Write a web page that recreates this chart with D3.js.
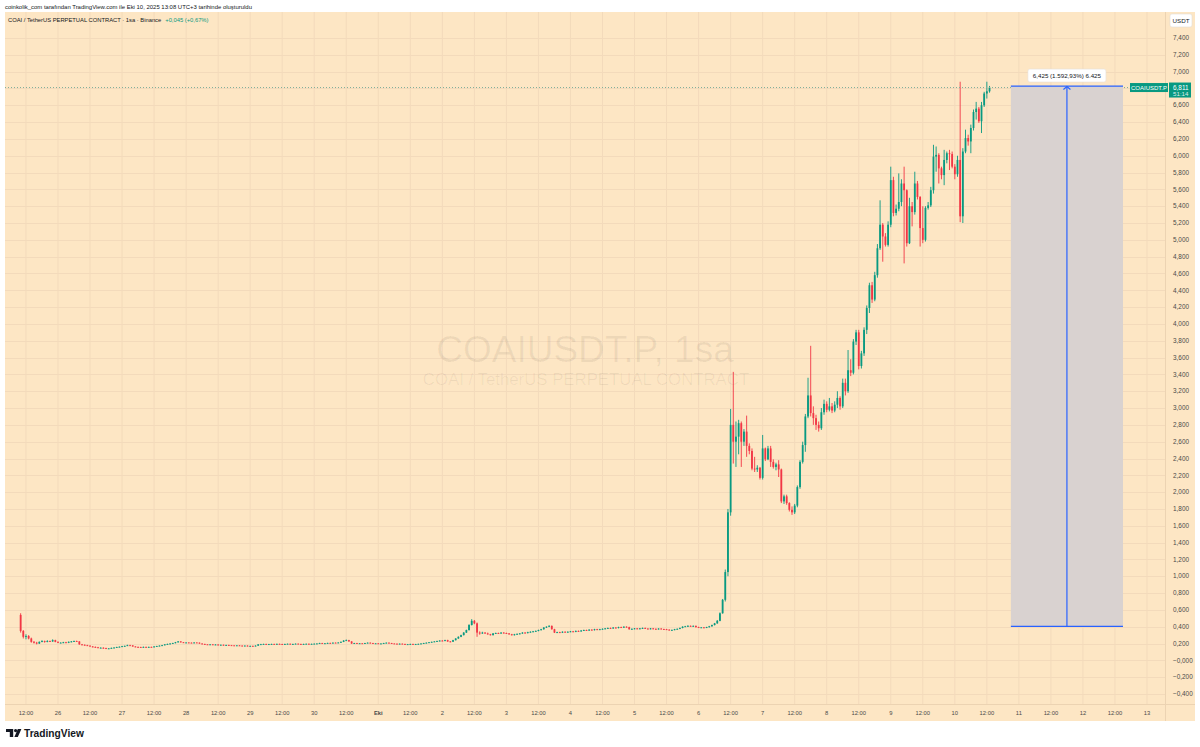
<!DOCTYPE html>
<html>
<head>
<meta charset="utf-8">
<script src="https://cdn.jsdelivr.net/npm/d3@7"></script>
<style>
  html, body { margin: 0; padding: 0; background: #ffffff; }
  svg { display: block; font-family: "Liberation Sans", Arial, sans-serif; }
</style>
</head>
<body>
<div id="chartDiv"></div>
<script>
// ---------- data (1h candles, UTC+3 clock) ----------
const symbol = 'COAIUSDT.P';
const firstBar = Date.UTC(2025, 8, 25, 10);   // Sep 25, 10:00

const opens = [
  0.54, 0.35, 0.28, 0.29, 0.26, 0.22, 0.21, 0.20, 0.22, 0.23, 0.22, 0.23,
  0.225, 0.24, 0.22, 0.21, 0.21, 0.215, 0.21, 0.22, 0.225, 0.23, 0.225, 0.19,
  0.185, 0.18, 0.175, 0.165, 0.16, 0.155, 0.15, 0.15, 0.145, 0.14, 0.142, 0.148,
  0.152, 0.158, 0.162, 0.168, 0.172, 0.18, 0.178, 0.165, 0.16, 0.158, 0.155, 0.16,
  0.155, 0.16, 0.158, 0.165, 0.17, 0.175, 0.18, 0.19, 0.195, 0.2, 0.205, 0.215,
  0.225, 0.215, 0.21, 0.212, 0.21, 0.208, 0.212, 0.21, 0.2, 0.195, 0.19, 0.188,
  0.19, 0.185, 0.188, 0.182, 0.185, 0.18, 0.183, 0.18, 0.178, 0.176, 0.178, 0.175,
  0.172, 0.175, 0.17, 0.172, 0.17, 0.175, 0.19, 0.192, 0.195, 0.19, 0.193, 0.195,
  0.192, 0.196, 0.194, 0.19, 0.195, 0.197, 0.193, 0.195, 0.198, 0.195, 0.192, 0.195,
  0.197, 0.194, 0.196, 0.198, 0.2, 0.205, 0.2, 0.203, 0.207, 0.205, 0.21, 0.208,
  0.212, 0.22, 0.235, 0.24, 0.225, 0.2, 0.205, 0.2, 0.203, 0.2, 0.205, 0.21,
  0.205, 0.2, 0.202, 0.198, 0.2, 0.205, 0.21, 0.205, 0.2, 0.198, 0.195, 0.198,
  0.195, 0.19, 0.192, 0.195, 0.19, 0.193, 0.196, 0.2, 0.205, 0.21, 0.215, 0.22,
  0.225, 0.23, 0.235, 0.232, 0.24, 0.225, 0.222, 0.24, 0.26, 0.28, 0.3, 0.33,
  0.36, 0.42, 0.47, 0.44, 0.33, 0.32, 0.33, 0.32, 0.31, 0.3, 0.32, 0.325,
  0.32, 0.33, 0.325, 0.32, 0.31, 0.3, 0.31, 0.315, 0.32, 0.33, 0.325, 0.335,
  0.34, 0.345, 0.35, 0.36, 0.37, 0.39, 0.4, 0.41, 0.37, 0.33, 0.335, 0.33,
  0.34, 0.335, 0.34, 0.345, 0.34, 0.35, 0.345, 0.355, 0.36, 0.355, 0.365, 0.36,
  0.37, 0.365, 0.37, 0.375, 0.38, 0.385, 0.38, 0.39, 0.385, 0.395, 0.39, 0.4,
  0.395, 0.37, 0.375, 0.38, 0.375, 0.38, 0.385, 0.378, 0.372, 0.38, 0.375, 0.37,
  0.378, 0.372, 0.37, 0.365, 0.36, 0.362, 0.37, 0.375, 0.385, 0.4, 0.405, 0.41,
  0.405, 0.41, 0.395, 0.39, 0.392, 0.388, 0.395, 0.405, 0.42, 0.44, 0.47, 0.56,
  0.72, 1.05, 1.76, 2.80, 2.60, 2.66, 2.82, 2.60, 2.72, 2.55,
  2.49, 2.28, 2.27, 2.29, 2.17, 2.52, 2.39, 2.52, 2.36, 2.30,
  2.33, 2.27, 1.89, 1.95, 1.87, 1.79, 1.76, 1.84, 2.06, 2.36,
  2.56, 2.90, 3.15, 2.94, 2.88, 2.80, 2.76, 2.95, 3.05, 2.98,
  3.02, 2.97, 3.04, 3.12, 3.02, 3.30, 3.20, 3.45, 3.42, 3.79,
  3.90, 3.50, 3.65, 3.93, 4.19, 4.46, 4.29, 4.58, 4.90, 5.18,
  5.04, 4.94, 5.18, 5.71, 5.32, 5.37, 5.45, 5.67, 5.59, 4.96,
  5.40, 5.33, 5.67, 5.51, 5.14, 5.00, 5.38, 5.41, 5.59, 5.99,
  6.01, 5.85, 5.77, 5.95, 6.03, 6.02, 5.87, 5.78, 5.95, 5.28,
  6.05, 6.21, 6.17, 6.33, 6.52, 6.56, 6.41, 6.60, 6.74, 6.766
];

const highs = [
  0.56, 0.36, 0.31, 0.30, 0.27, 0.23, 0.22, 0.225, 0.24, 0.235, 0.24, 0.235,
  0.25, 0.245, 0.225, 0.215, 0.22, 0.22, 0.225, 0.23, 0.235, 0.235, 0.228, 0.195,
  0.19, 0.185, 0.178, 0.17, 0.165, 0.16, 0.155, 0.155, 0.15, 0.146, 0.152, 0.156,
  0.162, 0.166, 0.172, 0.176, 0.186, 0.185, 0.18, 0.168, 0.164, 0.162, 0.164, 0.163,
  0.163, 0.163, 0.168, 0.173, 0.178, 0.184, 0.193, 0.199, 0.204, 0.209, 0.219, 0.23,
  0.228, 0.218, 0.215, 0.215, 0.213, 0.215, 0.215, 0.213, 0.203, 0.198, 0.193, 0.193,
  0.193, 0.191, 0.191, 0.188, 0.188, 0.186, 0.186, 0.183, 0.181, 0.181, 0.181, 0.178,
  0.178, 0.178, 0.175, 0.175, 0.178, 0.193, 0.196, 0.198, 0.198, 0.196, 0.198, 0.198,
  0.199, 0.199, 0.197, 0.198, 0.2, 0.2, 0.198, 0.201, 0.201, 0.198, 0.198, 0.2,
  0.2, 0.199, 0.201, 0.203, 0.209, 0.208, 0.206, 0.21, 0.21, 0.213, 0.213, 0.215,
  0.224, 0.24, 0.248, 0.244, 0.228, 0.208, 0.208, 0.206, 0.206, 0.208, 0.213, 0.213,
  0.208, 0.205, 0.205, 0.203, 0.208, 0.213, 0.213, 0.208, 0.203, 0.201, 0.201, 0.201,
  0.198, 0.195, 0.198, 0.198, 0.196, 0.199, 0.203, 0.208, 0.213, 0.218, 0.223, 0.228,
  0.234, 0.239, 0.24, 0.245, 0.245, 0.23, 0.244, 0.264, 0.285, 0.305, 0.335, 0.365,
  0.43, 0.49, 0.48, 0.45, 0.345, 0.34, 0.335, 0.33, 0.315, 0.325, 0.33, 0.33,
  0.335, 0.335, 0.33, 0.325, 0.315, 0.315, 0.32, 0.325, 0.335, 0.335, 0.34, 0.345,
  0.35, 0.355, 0.365, 0.375, 0.395, 0.405, 0.418, 0.415, 0.375, 0.34, 0.34, 0.345,
  0.345, 0.345, 0.35, 0.35, 0.355, 0.355, 0.36, 0.365, 0.365, 0.37, 0.37, 0.375,
  0.375, 0.375, 0.38, 0.385, 0.39, 0.39, 0.395, 0.395, 0.4, 0.4, 0.405, 0.405,
  0.4, 0.38, 0.385, 0.385, 0.385, 0.39, 0.39, 0.382, 0.385, 0.385, 0.38, 0.382,
  0.382, 0.376, 0.374, 0.369, 0.366, 0.374, 0.379, 0.39, 0.405, 0.41, 0.418, 0.415,
  0.415, 0.414, 0.4, 0.396, 0.396, 0.399, 0.41, 0.425, 0.445, 0.48, 0.57, 0.73,
  1.08, 1.80, 2.99, 3.43, 2.84, 2.86, 2.84, 2.75, 2.91, 2.58,
  2.52, 2.42, 2.32, 2.30, 2.68, 2.53, 2.55, 2.55, 2.39, 2.35,
  2.38, 2.28, 1.97, 1.97, 1.88, 1.83, 1.86, 2.08, 2.38, 2.60,
  2.93, 3.36, 3.74, 3.02, 2.92, 2.84, 3.00, 3.10, 3.08, 3.12,
  3.06, 3.08, 3.20, 3.14, 3.35, 3.35, 3.69, 3.58, 3.82, 3.93,
  3.93, 3.68, 3.96, 4.22, 4.49, 4.50, 4.62, 4.95, 5.47, 5.20,
  5.08, 5.22, 5.87, 5.75, 5.42, 5.79, 5.72, 5.87, 5.60, 5.50,
  5.45, 5.81, 5.70, 5.52, 5.40, 5.40, 5.45, 5.63, 6.13, 6.11,
  6.03, 5.87, 6.07, 6.05, 6.07, 6.05, 5.90, 6.00, 6.88, 6.09,
  6.31, 6.25, 6.37, 6.55, 6.64, 6.58, 6.64, 6.76, 6.88, 6.83
];

const lows = [
  0.33, 0.26, 0.25, 0.25, 0.21, 0.20, 0.19, 0.195, 0.215, 0.21, 0.215, 0.22,
  0.22, 0.215, 0.205, 0.205, 0.205, 0.205, 0.205, 0.215, 0.22, 0.22, 0.185, 0.18,
  0.176, 0.17, 0.162, 0.155, 0.15, 0.146, 0.145, 0.14, 0.136, 0.136, 0.139, 0.145,
  0.149, 0.155, 0.159, 0.165, 0.17, 0.174, 0.162, 0.156, 0.154, 0.151, 0.152, 0.151,
  0.152, 0.155, 0.155, 0.162, 0.167, 0.172, 0.177, 0.187, 0.192, 0.197, 0.202, 0.212,
  0.211, 0.207, 0.207, 0.206, 0.205, 0.205, 0.207, 0.197, 0.192, 0.187, 0.185, 0.185,
  0.182, 0.182, 0.179, 0.179, 0.177, 0.177, 0.177, 0.175, 0.173, 0.173, 0.172, 0.169,
  0.169, 0.167, 0.167, 0.167, 0.167, 0.172, 0.187, 0.189, 0.187, 0.187, 0.19, 0.189,
  0.189, 0.191, 0.187, 0.187, 0.192, 0.19, 0.19, 0.192, 0.192, 0.189, 0.189, 0.192,
  0.191, 0.191, 0.193, 0.195, 0.197, 0.197, 0.197, 0.2, 0.202, 0.202, 0.205, 0.205,
  0.209, 0.217, 0.231, 0.222, 0.196, 0.197, 0.197, 0.197, 0.197, 0.197, 0.202, 0.202,
  0.197, 0.197, 0.195, 0.195, 0.197, 0.202, 0.202, 0.197, 0.195, 0.192, 0.192, 0.192,
  0.187, 0.187, 0.189, 0.187, 0.187, 0.19, 0.193, 0.197, 0.202, 0.207, 0.212, 0.217,
  0.221, 0.226, 0.228, 0.228, 0.22, 0.216, 0.218, 0.236, 0.256, 0.276, 0.296, 0.326,
  0.355, 0.415, 0.43, 0.28, 0.305, 0.315, 0.315, 0.305, 0.295, 0.296, 0.315, 0.315,
  0.315, 0.32, 0.315, 0.305, 0.295, 0.295, 0.305, 0.31, 0.315, 0.32, 0.32, 0.33,
  0.335, 0.34, 0.345, 0.355, 0.365, 0.385, 0.395, 0.365, 0.325, 0.325, 0.325, 0.325,
  0.33, 0.33, 0.335, 0.335, 0.335, 0.34, 0.34, 0.35, 0.35, 0.35, 0.355, 0.355,
  0.36, 0.36, 0.365, 0.37, 0.375, 0.375, 0.375, 0.38, 0.38, 0.385, 0.385, 0.39,
  0.365, 0.365, 0.37, 0.37, 0.37, 0.375, 0.374, 0.368, 0.368, 0.37, 0.365, 0.366,
  0.368, 0.366, 0.361, 0.356, 0.356, 0.358, 0.366, 0.371, 0.381, 0.396, 0.4, 0.4,
  0.4, 0.39, 0.386, 0.386, 0.384, 0.384, 0.39, 0.4, 0.415, 0.435, 0.465, 0.555,
  0.70, 1.00, 1.72, 2.34, 2.30, 2.45, 2.30, 2.55, 2.42, 2.45,
  2.26, 2.24, 2.24, 2.15, 2.15, 2.37, 2.38, 2.30, 2.28, 2.26,
  2.18, 1.87, 1.86, 1.85, 1.77, 1.73, 1.74, 1.82, 2.04, 2.34,
  2.48, 2.88, 2.90, 2.80, 2.74, 2.72, 2.74, 2.92, 2.95, 2.96,
  2.94, 2.95, 3.00, 2.98, 3.00, 3.15, 3.18, 3.38, 3.40, 3.75,
  3.46, 3.47, 3.62, 3.88, 4.13, 4.25, 4.27, 4.55, 4.88, 4.74,
  4.92, 4.92, 5.15, 5.28, 5.29, 5.34, 5.40, 4.72, 4.92, 4.95,
  5.16, 5.30, 5.48, 4.92, 4.96, 4.98, 5.36, 5.39, 5.55, 5.81,
  5.67, 5.72, 5.65, 5.91, 5.83, 5.85, 5.72, 5.75, 5.21, 5.20,
  6.03, 6.12, 6.03, 6.30, 6.43, 6.39, 6.27, 6.58, 6.68, 6.75
];

const closes = [
  0.35, 0.28, 0.29, 0.26, 0.22, 0.21, 0.20, 0.22, 0.23, 0.22, 0.23, 0.225,
  0.24, 0.22, 0.21, 0.21, 0.215, 0.21, 0.22, 0.225, 0.23, 0.225, 0.19, 0.185,
  0.18, 0.175, 0.165, 0.16, 0.155, 0.15, 0.15, 0.145, 0.14, 0.142, 0.148, 0.152,
  0.158, 0.162, 0.168, 0.172, 0.18, 0.178, 0.165, 0.16, 0.158, 0.155, 0.16, 0.155,
  0.16, 0.158, 0.165, 0.17, 0.175, 0.18, 0.19, 0.195, 0.2, 0.205, 0.215, 0.225,
  0.215, 0.21, 0.212, 0.21, 0.208, 0.212, 0.21, 0.2, 0.195, 0.19, 0.188, 0.19,
  0.185, 0.188, 0.182, 0.185, 0.18, 0.183, 0.18, 0.178, 0.176, 0.178, 0.175, 0.172,
  0.175, 0.17, 0.172, 0.17, 0.175, 0.19, 0.192, 0.195, 0.19, 0.193, 0.195, 0.192,
  0.196, 0.194, 0.19, 0.195, 0.197, 0.193, 0.195, 0.198, 0.195, 0.192, 0.195, 0.197,
  0.194, 0.196, 0.198, 0.2, 0.205, 0.2, 0.203, 0.207, 0.205, 0.21, 0.208, 0.212,
  0.22, 0.235, 0.24, 0.225, 0.2, 0.205, 0.2, 0.203, 0.2, 0.205, 0.21, 0.205,
  0.2, 0.202, 0.198, 0.2, 0.205, 0.21, 0.205, 0.2, 0.198, 0.195, 0.198, 0.195,
  0.19, 0.192, 0.195, 0.19, 0.193, 0.196, 0.2, 0.205, 0.21, 0.215, 0.22, 0.225,
  0.23, 0.235, 0.232, 0.24, 0.225, 0.222, 0.24, 0.26, 0.28, 0.3, 0.33, 0.36,
  0.42, 0.47, 0.44, 0.33, 0.32, 0.33, 0.32, 0.31, 0.3, 0.32, 0.325, 0.32,
  0.33, 0.325, 0.32, 0.31, 0.3, 0.31, 0.315, 0.32, 0.33, 0.325, 0.335, 0.34,
  0.345, 0.35, 0.36, 0.37, 0.39, 0.4, 0.41, 0.37, 0.33, 0.335, 0.33, 0.34,
  0.335, 0.34, 0.345, 0.34, 0.35, 0.345, 0.355, 0.36, 0.355, 0.365, 0.36, 0.37,
  0.365, 0.37, 0.375, 0.38, 0.385, 0.38, 0.39, 0.385, 0.395, 0.39, 0.4, 0.395,
  0.37, 0.375, 0.38, 0.375, 0.38, 0.385, 0.378, 0.372, 0.38, 0.375, 0.37, 0.378,
  0.372, 0.37, 0.365, 0.36, 0.362, 0.37, 0.375, 0.385, 0.4, 0.405, 0.41, 0.405,
  0.41, 0.395, 0.39, 0.392, 0.388, 0.395, 0.405, 0.42, 0.44, 0.47, 0.56, 0.72,
  1.05, 1.76, 2.80, 2.60, 2.66, 2.82, 2.60, 2.72, 2.55, 2.49,
  2.28, 2.27, 2.29, 2.17, 2.52, 2.39, 2.52, 2.36, 2.30, 2.33,
  2.27, 1.89, 1.95, 1.87, 1.79, 1.76, 1.84, 2.06, 2.36, 2.56,
  2.90, 3.15, 2.94, 2.88, 2.80, 2.76, 2.95, 3.05, 2.98, 3.02,
  2.97, 3.04, 3.12, 3.02, 3.30, 3.20, 3.45, 3.42, 3.79, 3.90,
  3.50, 3.65, 3.93, 4.19, 4.46, 4.29, 4.58, 4.90, 5.18, 5.04,
  4.94, 5.18, 5.71, 5.32, 5.37, 5.45, 5.67, 5.59, 4.96, 5.40,
  5.33, 5.67, 5.51, 5.14, 5.00, 5.38, 5.41, 5.59, 5.99, 6.01,
  5.85, 5.77, 5.95, 6.03, 6.02, 5.87, 5.78, 5.95, 5.28, 6.05,
  6.21, 6.17, 6.33, 6.52, 6.56, 6.41, 6.60, 6.74, 6.766, 6.811
];

const priceTicks = [-0.4, -0.2, 0, 0.2, 0.4, 0.6, 0.8, 1.0, 1.2, 1.4, 1.6, 1.8, 2.0,
  2.2, 2.4, 2.6, 2.8, 3.0, 3.2, 3.4, 3.6, 3.8, 4.0, 4.2, 4.4, 4.6, 4.8, 5.0,
  5.2, 5.4, 5.6, 5.8, 6.0, 6.2, 6.4, 6.6, 6.8, 7.0, 7.2, 7.4];

const lastPrice = 6.811;
const countdown = '51:14';
const changeText = '+0,045 (+0,67%)';

// price range measure drawn on the chart
const measureStart = Date.UTC(2025, 9, 10, 21);
const measureEnd = Date.UTC(2025, 9, 12, 15);
const measureLow = 0.4034;
const measureHigh = 6.8284;
const measureLabel = '6,425 (1.592,93%) 6.425';

// ---------- layout ----------
const W = 1200, H = 747;
const pane = { left: 5, right: 1165, top: 12, bottom: 704 };
const axisRight = 1195, chartBottom = 721;

const colors = {
  bg: '#fde6c4',
  grid: '#f3dabb',
  sep: '#ecd3b2',
  up: '#089981',
  down: '#f23645',
  text: '#131722',
  axisText: '#4a4a4a',
  blue: '#2962ff'
};

const svg = d3.select('#chartDiv').append('svg')
  .attr('width', W).attr('height', H);

svg.append('rect').attr('width', W).attr('height', H).attr('fill', '#ffffff');
svg.append('rect')
  .attr('x', pane.left).attr('y', pane.top)
  .attr('width', axisRight - pane.left).attr('height', chartBottom - pane.top)
  .attr('fill', colors.bg);

// scales
const xScale = d3.scaleUtc()
  .domain([Date.UTC(2025, 8, 26), Date.UTC(2025, 9, 13)])
  .range([58, 1147]);

const yScale = d3.scaleLinear()
  .domain([-0.4, 7.4])
  .range([694, 38]);

const bars = closes.map((c, i) => ({
  t: new Date(firstBar + i * 3600e3),
  o: opens[i], h: highs[i], l: lows[i], c: c
}));

// ---------- grid ----------
const timeTicks = d3.utcHour.every(12)
  .range(new Date(Date.UTC(2025, 8, 25, 12)), new Date(Date.UTC(2025, 9, 13, 1)));

const gGrid = svg.append('g');
gGrid.selectAll('line.v').data(timeTicks).enter().append('line')
  .attr('x1', d => xScale(d)).attr('x2', d => xScale(d))
  .attr('y1', pane.top).attr('y2', pane.bottom)
  .attr('stroke', colors.grid).attr('stroke-width', 1);
gGrid.selectAll('line.h').data(priceTicks).enter().append('line')
  .attr('x1', pane.left).attr('x2', pane.right)
  .attr('y1', d => Math.round(yScale(d)) + 0.5).attr('y2', d => Math.round(yScale(d)) + 0.5)
  .attr('stroke', colors.grid).attr('stroke-width', 1);

// ---------- watermark ----------
svg.append('text')
  .attr('x', 585).attr('y', 362)
  .attr('text-anchor', 'middle')
  .attr('font-size', 37)
  .attr('fill', '#000').attr('fill-opacity', 0.06)
  .text(symbol + ', 1sa');
svg.append('text')
  .attr('x', 586).attr('y', 385)
  .attr('text-anchor', 'middle')
  .attr('font-size', 16.8)
  .attr('fill', '#000').attr('fill-opacity', 0.06)
  .text('COAI / TetherUS PERPETUAL CONTRACT');

// ---------- candles ----------
const bodyW = 1.8;
const gCandles = svg.append('g');
const candle = gCandles.selectAll('g').data(bars).enter().append('g');

candle.append('line')
  .attr('x1', d => xScale(d.t)).attr('x2', d => xScale(d.t))
  .attr('y1', d => yScale(d.h)).attr('y2', d => yScale(d.l))
  .attr('stroke', d => d.c >= d.o ? colors.up : colors.down)
  .attr('stroke-width', 0.9);

candle.append('rect')
  .attr('x', d => xScale(d.t) - bodyW / 2)
  .attr('y', d => yScale(Math.max(d.o, d.c)))
  .attr('width', bodyW)
  .attr('height', d => Math.max(0.9, Math.abs(yScale(d.o) - yScale(d.c))))
  .attr('fill', d => d.c >= d.o ? colors.up : colors.down);

// ---------- last price line ----------
const yLast = yScale(lastPrice);
svg.append('line')
  .attr('x1', pane.left).attr('x2', pane.right)
  .attr('y1', yLast).attr('y2', yLast)
  .attr('stroke', '#7fae9a').attr('stroke-width', 1)
  .attr('stroke-dasharray', '1,2');

// ---------- price range measure ----------
const mx0 = xScale(new Date(measureStart)), mx1 = xScale(new Date(measureEnd));
const my0 = yScale(measureHigh), my1 = yScale(measureLow);
const mxc = (mx0 + mx1) / 2;
const gM = svg.append('g');
gM.append('rect')
  .attr('x', mx0).attr('y', my0)
  .attr('width', mx1 - mx0).attr('height', my1 - my0)
  .attr('fill', '#d9d2d0');
gM.append('line')
  .attr('x1', mx0).attr('x2', mx1).attr('y1', my0).attr('y2', my0)
  .attr('stroke', colors.blue).attr('stroke-width', 1.2);
gM.append('line')
  .attr('x1', mx0).attr('x2', mx1).attr('y1', my1).attr('y2', my1)
  .attr('stroke', colors.blue).attr('stroke-width', 1.2);
gM.append('line')
  .attr('x1', mxc).attr('x2', mxc).attr('y1', my1).attr('y2', my0 + 0.5)
  .attr('stroke', colors.blue).attr('stroke-width', 1.2);
gM.append('path')
  .attr('d', `M${mxc - 3.5},${my0 + 3.5} L${mxc},${my0 + 0.5} L${mxc + 3.5},${my0 + 3.5}`)
  .attr('fill', 'none').attr('stroke', colors.blue).attr('stroke-width', 1.2);
gM.append('rect')
  .attr('x', mxc - 39).attr('y', my0 - 17)
  .attr('width', 78).attr('height', 13).attr('rx', 2)
  .attr('fill', '#ffffff').attr('stroke', '#e6e0da').attr('stroke-width', 0.6);
gM.append('text')
  .attr('x', mxc).attr('y', my0 - 8.3)
  .attr('text-anchor', 'middle').attr('font-size', 6.2)
  .attr('fill', colors.text)
  .text(measureLabel);

// ---------- axes ----------
svg.append('line')
  .attr('x1', pane.right + 0.5).attr('x2', pane.right + 0.5)
  .attr('y1', pane.top).attr('y2', chartBottom)
  .attr('stroke', colors.sep);
svg.append('line')
  .attr('x1', pane.left).attr('x2', axisRight)
  .attr('y1', pane.bottom + 0.5).attr('y2', pane.bottom + 0.5)
  .attr('stroke', colors.sep);

const priceFmt = v => (v <= 0 ? '\u2212' : '') + d3.format('.3f')(Math.abs(v)).replace('.', ',');

svg.append('g').selectAll('text').data(priceTicks).enter().append('text')
  .attr('x', 1173).attr('y', d => yScale(d) + 2.2)
  .attr('font-size', 6.4).attr('fill', colors.axisText)
  .text(priceFmt);

const timeFmt = d => {
  if (d.getUTCHours() === 12) return '12:00';
  if (d.getUTCDate() === 1) return 'Eki';
  return String(d.getUTCDate());
};
svg.append('g').selectAll('text').data(timeTicks).enter().append('text')
  .attr('x', d => xScale(d)).attr('y', 714.8)
  .attr('text-anchor', 'middle')
  .attr('font-size', 5.8).attr('fill', colors.axisText)
  .attr('font-weight', d => (d.getUTCDate() === 1 && d.getUTCHours() === 0) ? 'bold' : 'normal')
  .text(timeFmt);

// currency box
svg.append('rect')
  .attr('x', 1170).attr('y', 14).attr('width', 22).attr('height', 13).attr('rx', 2)
  .attr('fill', '#ffffff').attr('stroke', '#e3ddd6').attr('stroke-width', 0.6);
svg.append('text')
  .attr('x', 1181).attr('y', 22.8).attr('text-anchor', 'middle')
  .attr('font-size', 6.2).attr('fill', colors.text).text('USDT');

// last price labels
svg.append('rect')
  .attr('x', 1130).attr('y', yLast - 4.5).attr('width', 38).attr('height', 9)
  .attr('fill', colors.up);
svg.append('text')
  .attr('x', 1149).attr('y', yLast + 2.2).attr('text-anchor', 'middle')
  .attr('font-size', 6).attr('fill', '#ffffff').text(symbol);
svg.append('rect')
  .attr('x', 1169).attr('y', yLast - 5).attr('width', 22).attr('height', 15)
  .attr('fill', colors.up);
svg.append('text')
  .attr('x', 1173).attr('y', yLast + 2.2)
  .attr('font-size', 6.4).attr('fill', '#ffffff')
  .text(priceFmt(lastPrice));
svg.append('text')
  .attr('x', 1173).attr('y', yLast + 8.4)
  .attr('font-size', 6.2).attr('fill', '#ffffff').attr('fill-opacity', 0.85)
  .text(countdown);

// ---------- header ----------
svg.append('text')
  .attr('x', 5).attr('y', 8.8)
  .attr('font-size', 5.95).attr('fill', colors.text)
  .text('coinkolik_com tarafından TradingView.com ile Eki 10, 2025 13:08 UTC+3 tarihinde oluşturuldu');

const legend = svg.append('text')
  .attr('x', 8).attr('y', 22)
  .attr('font-size', 5.8).attr('fill', colors.text);
legend.append('tspan').text('COAI / TetherUS PERPETUAL CONTRACT \u00b7 1sa \u00b7 Binance');
legend.append('tspan').attr('dx', 4).attr('fill', colors.up).text(changeText);

// ---------- TradingView logo ----------
const logo = svg.append('g').attr('fill', colors.text);
logo.append('path').attr('d', 'M6,729 h7.2 v8 h-3.4 v-5 h-3.8 z');
logo.append('circle').attr('cx', 15.6).attr('cy', 730.6).attr('r', 1.6);
logo.append('path').attr('d', 'M17.8,729 h3.6 l-3.6,8 h-3.4 z');
logo.append('text')
  .attr('x', 24).attr('y', 737.2)
  .attr('font-size', 10.2).attr('font-weight', 'bold')
  .text('TradingView');
</script>
</body>
</html>
